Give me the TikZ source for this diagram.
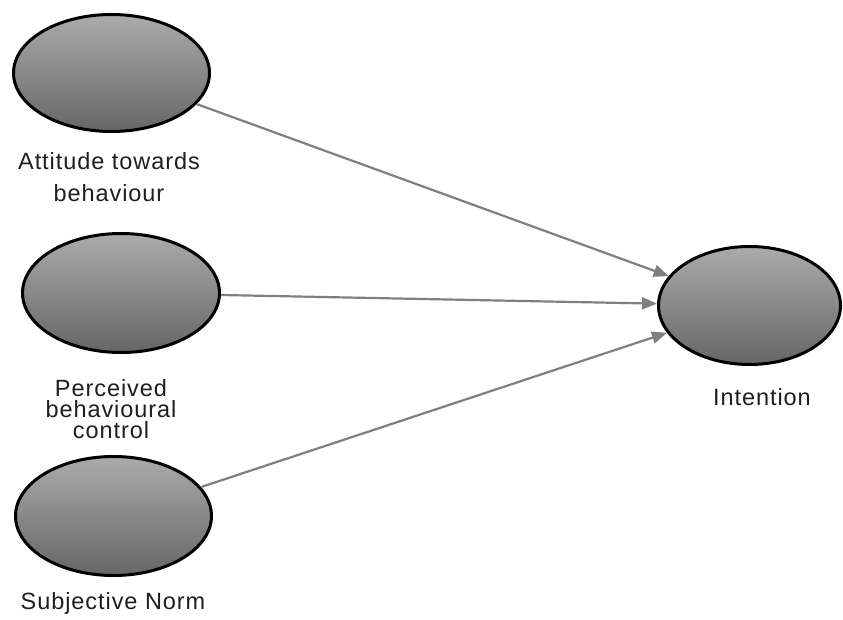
\documentclass[tikz,border=0pt]{standalone}
\usepackage{fontspec}
\setmainfont{Liberation Sans}[LetterSpace=4]
\usetikzlibrary{arrows.meta,shapes.geometric}
\definecolor{linkgray}{HTML}{7F7F7F}
\definecolor{txt}{HTML}{1E1E1E}
\begin{document}
\begin{tikzpicture}[x=1pt,y=-1pt,
  construct/.style={ellipse, draw=black, line width=3pt, inner sep=0pt,
    top color=black!33, bottom color=black!60, shading angle=0},
  lbl/.style={text=txt, font=\fontsize{23.5}{22}\selectfont, align=center, inner sep=0pt, anchor=base},
  link/.style={draw=linkgray, line width=2.2pt, -{Triangle[length=15pt,width=12pt]}}]
\useasboundingbox (0,0) rectangle (843,620);
\node[construct, minimum width=196pt, minimum height=117pt] (att) at (111.5,73) {};
\node[construct, minimum width=197pt, minimum height=119pt] (pbc) at (121,293) {};
\node[construct, minimum width=196pt, minimum height=119pt] (sn) at (113.5,516) {};
\node[construct, minimum width=182pt, minimum height=118pt] (int) at (749.5,305.5) {};
\node[lbl, font=\fontsize{23.5}{32}\selectfont] (attl) at (109,202) {Attitude towards\\behaviour};
\node[lbl, font=\fontsize{23.5}{21}\selectfont] (pbcl) at (111,438) {Perceived\\behavioural\\control};
\node[lbl] (snl) at (113,609) {Subjective Norm};
\node[lbl] (intl) at (762,405) {Intention};
\draw[link] (att) -- (int);
\draw[link] (pbc) -- (int);
\draw[link] (sn) -- (int);
\end{tikzpicture}
\end{document}
